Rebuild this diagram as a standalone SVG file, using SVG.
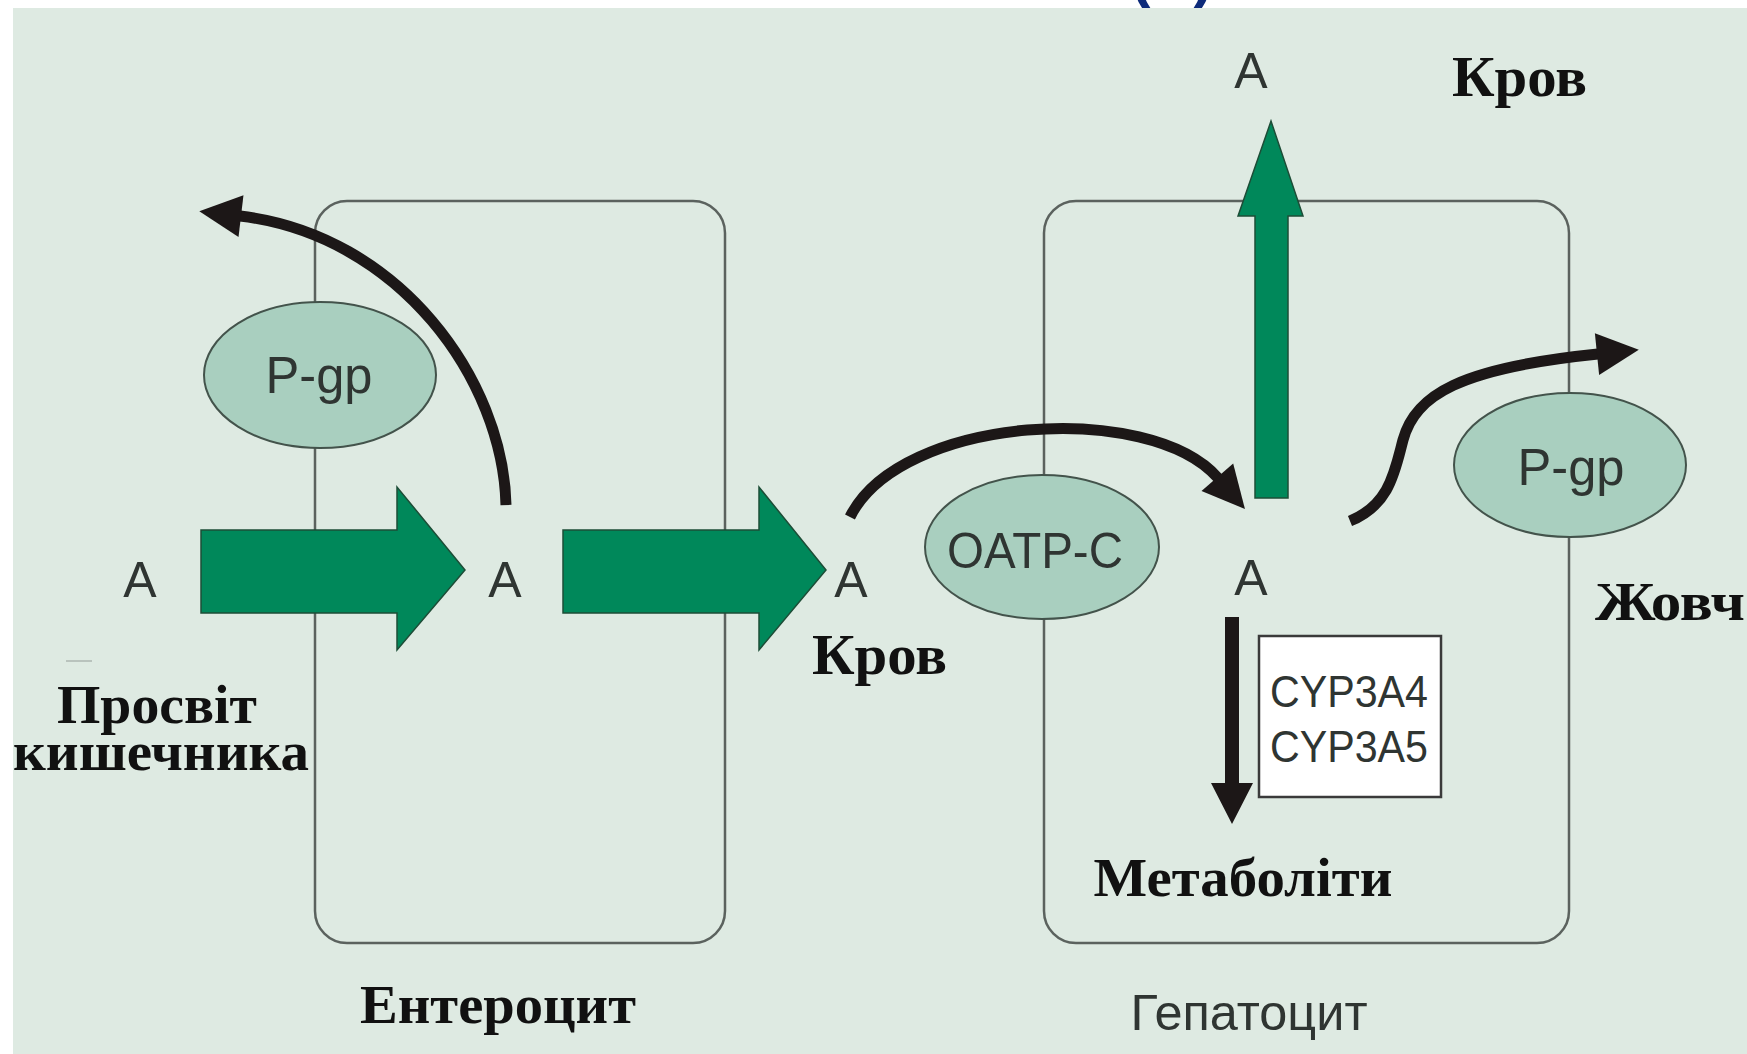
<svg xmlns="http://www.w3.org/2000/svg" width="1747" height="1054" viewBox="0 0 1747 1054">
  <defs>
    <style>
      .bg { fill: #deeae2; }
      .cell { fill: none; stroke: #5b625e; stroke-width: 2.5; }
      .transporter { fill: #a9cfbf; stroke: #43534b; stroke-width: 2; }
      .green { fill: #00885a; stroke: #1d4d37; stroke-width: 1.5; stroke-linejoin: miter; }
      .flow { fill: none; stroke: #1c1717; stroke-width: 11; stroke-linecap: butt; }
      .solid { fill: #1c1717; }
      .sans { font-family: "Liberation Sans", Arial, sans-serif; fill: #2f3532; }
      .serif { font-family: "Liberation Serif", "Times New Roman", serif; font-weight: bold; fill: #111111; }
      .title { font-family: "Liberation Sans", Arial, sans-serif; font-weight: bold; fill: #0d2b7a; font-size: 60px; }
    </style>
    <marker id="head" markerUnits="userSpaceOnUse" markerWidth="46" markerHeight="46" viewBox="0 -23 44 46" refX="1" refY="0" orient="auto">
      <path d="M0,-21 L42,0 L0,21 Z" fill="#1c1717"/>
    </marker>
  </defs>

  <rect x="0" y="0" width="1747" height="1054" fill="#ffffff"/>
  <!-- heading cut off at the top edge -->
  <text class="title" x="1131" y="-3">(</text>
  <text class="title" x="1193" y="-3">)</text>
  <rect class="bg" x="13" y="8" width="1734" height="1046"/>
  <line x1="66" y1="661" x2="92" y2="661" stroke="#b9c3bd" stroke-width="2"/>

  <g id="enterocyte">
    <rect class="cell" x="315" y="201" width="410" height="742" rx="32" ry="32"/>
    <text class="serif" x="498" y="1023" font-size="54" text-anchor="middle" textLength="276" lengthAdjust="spacingAndGlyphs">Ентероцит</text>
  </g>

  <g id="hepatocyte">
    <rect class="cell" x="1044" y="201" width="525" height="742" rx="32" ry="32"/>
    <text class="sans" x="1249" y="1030" font-size="50" text-anchor="middle" textLength="237" lengthAdjust="spacingAndGlyphs">Гепатоцит</text>
  </g>

  <g id="pgp-intestine">
    <ellipse class="transporter" cx="320" cy="375" rx="116" ry="73"/>
    <text class="sans" x="319" y="393" font-size="52" text-anchor="middle" textLength="107" lengthAdjust="spacingAndGlyphs">P-gp</text>
  </g>

  <g id="oatp-c">
    <ellipse class="transporter" cx="1042" cy="547" rx="117" ry="72"/>
    <text class="sans" x="1035" y="568" font-size="50" text-anchor="middle" textLength="176" lengthAdjust="spacingAndGlyphs">OATP-C</text>
  </g>

  <g id="pgp-liver">
    <ellipse class="transporter" cx="1570" cy="465" rx="116" ry="72"/>
    <text class="sans" x="1571" y="485" font-size="52" text-anchor="middle" textLength="107" lengthAdjust="spacingAndGlyphs">P-gp</text>
  </g>

  <g id="cyp">
    <rect x="1259" y="636" width="182" height="161" fill="#ffffff" stroke="#3a3a3a" stroke-width="2.5"/>
    <text class="sans" x="1270" y="707" font-size="44" textLength="158" lengthAdjust="spacingAndGlyphs">CYP3A4</text>
    <text class="sans" x="1270" y="762" font-size="44" textLength="158" lengthAdjust="spacingAndGlyphs">CYP3A5</text>
  </g>

  <g id="connectors">
    <polygon class="green" points="201,530 397,530 397,487 465,570 397,650 397,613 201,613"/>
    <polygon class="green" points="563,530 759,530 759,487 826,570 759,650 759,613 563,613"/>
    <polygon class="green" points="1255,498 1255,216 1238,216 1271,121 1303,216 1288,216 1288,498"/>
    <path class="flow" d="M 506 505 C 503 380, 400 235, 240 216" marker-end="url(#head)"/>
    <path class="flow" d="M 850 517 C 900 415, 1150 400, 1218 478" marker-end="url(#head)"/>
    <path class="flow" d="M 1350 521 C 1390 505, 1395 470, 1403 440 C 1415 395, 1460 368, 1598 354" marker-end="url(#head)"/>
    <polygon class="solid" points="1225,617 1239,617 1239,783 1253,783 1232,824 1211,783 1225,783"/>
  </g>

  <g id="labels">
    <text class="sans" x="140" y="597" font-size="50" text-anchor="middle">A</text>
    <text class="sans" x="505" y="597" font-size="50" text-anchor="middle">A</text>
    <text class="sans" x="851" y="597" font-size="50" text-anchor="middle">A</text>
    <text class="sans" x="1251" y="595" font-size="50" text-anchor="middle">A</text>
    <text class="sans" x="1251" y="88" font-size="50" text-anchor="middle">A</text>
    <text class="serif" x="1452" y="96" font-size="56" textLength="135" lengthAdjust="spacingAndGlyphs">Кров</text>
    <text class="serif" x="812" y="674" font-size="56" textLength="135" lengthAdjust="spacingAndGlyphs">Кров</text>
    <text class="serif" x="157" y="723" font-size="54" text-anchor="middle" textLength="200" lengthAdjust="spacingAndGlyphs">Просвіт</text>
    <text class="serif" x="161" y="770" font-size="54" text-anchor="middle" textLength="296" lengthAdjust="spacingAndGlyphs">кишечника</text>
    <text class="serif" x="1243" y="896" font-size="54" text-anchor="middle" textLength="299" lengthAdjust="spacingAndGlyphs">Метаболіти</text>
    <text class="serif" x="1595" y="620" font-size="54" textLength="150" lengthAdjust="spacingAndGlyphs">Жовч</text>
  </g>
</svg>
